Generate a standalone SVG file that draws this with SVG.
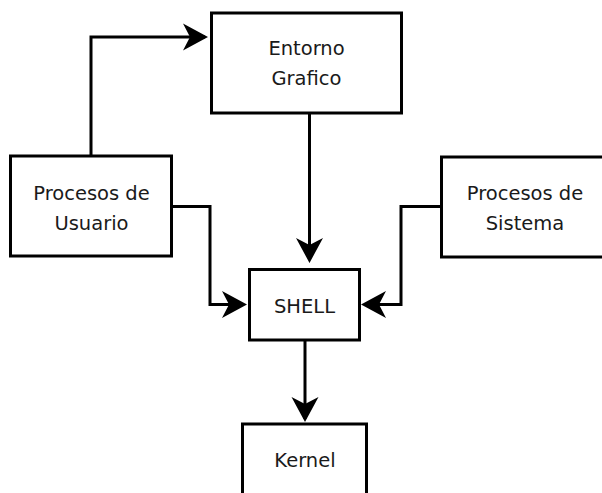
<svg xmlns="http://www.w3.org/2000/svg" width="602" height="493" viewBox="0 0 602 493">
<style>
.box{fill:#fff;stroke:#000;stroke-width:3}
.lbl{font-family:"DejaVu Sans",sans-serif;font-size:19.5px;fill:#1a1a1a;text-anchor:middle}
.conn{fill:none;stroke:#000;stroke-width:3}
</style>
<defs>
<marker id="ah" markerUnits="userSpaceOnUse" markerWidth="30" markerHeight="30" viewBox="0 -15 26 30" refX="22" refY="0" orient="auto">
<path d="M0,-13.5 L25,0 L0,13.5 L7,0 Z" fill="#000"/>
</marker>
</defs>
<rect width="602" height="493" fill="#fff"/>
<g id="connectors">
<path class="conn" d="M91,156 V37 H205" marker-end="url(#ah)"/>
<path class="conn" d="M309.5,114 V260" marker-end="url(#ah)"/>
<path class="conn" d="M172,206.5 H210 V304.5 H244" marker-end="url(#ah)"/>
<path class="conn" d="M441,206.5 H401 V304.5 H364" marker-end="url(#ah)"/>
<path class="conn" d="M305,340 V419" marker-end="url(#ah)"/>
</g>
<g id="entorno">
<rect class="box" x="211.5" y="13" width="190" height="100"/>
<text class="lbl" x="306.5" y="55">Entorno</text>
<text class="lbl" x="306.5" y="85">Grafico</text>
</g>
<g id="usuario">
<rect class="box" x="10.5" y="156" width="161" height="100"/>
<text class="lbl" x="91.5" y="200">Procesos de</text>
<text class="lbl" x="91.5" y="229.5">Usuario</text>
</g>
<g id="sistema">
<rect class="box" x="441.5" y="157" width="170" height="100"/>
<text class="lbl" x="525" y="200">Procesos de</text>
<text class="lbl" x="525" y="230">Sistema</text>
</g>
<g id="shell">
<rect class="box" x="249.5" y="269.5" width="110" height="70.5"/>
<text class="lbl" x="304.5" y="312.5">SHELL</text>
</g>
<g id="kernel">
<rect class="box" x="242.5" y="424" width="124" height="100"/>
<text class="lbl" x="305" y="467">Kernel</text>
</g>
</svg>
